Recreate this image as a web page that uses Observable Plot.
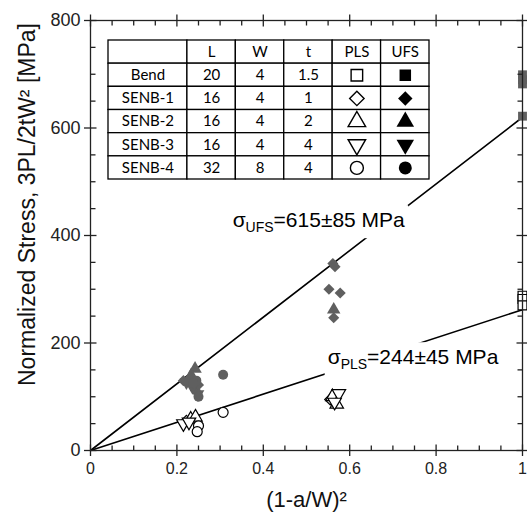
<!DOCTYPE html>
<html><head><meta charset="utf-8">
<script src="https://cdn.jsdelivr.net/npm/d3@7"></script>
<script src="https://cdn.jsdelivr.net/npm/@observablehq/plot@0.6"></script>
<style>
body{margin:0;background:#fff;}
#wrap{position:relative;width:527px;height:514px;}
#table{position:absolute;left:107px;top:39px;}
</style></head><body><div id="wrap"><div id="chart"></div><div id="table"></div></div>
<script>
// ---------- data ----------
const xMajor = [0, 0.2, 0.4, 0.6, 0.8, 1];
const xMinor = [0.05,0.1,0.15,0.25,0.3,0.35,0.45,0.5,0.55,0.65,0.7,0.75,0.85,0.9,0.95];
const yMajor = [0, 200, 400, 600, 800];
const yMinor = [50,100,150,250,300,350,450,500,550,650,700,750];

const specimens = ["Bend", "SENB-1", "SENB-2", "SENB-3", "SENB-4"];
const specL = [20, 16, 16, 16, 32];
const specW = [4, 4, 4, 4, 8];
const specT = [1.5, 1, 2, 4, 4];
const tableHeader = ["", "L", "W", "t", "PLS", "UFS"];

// UFS (filled) points
const ufsBendX  = [1, 1, 1, 1];
const ufsBendY  = [622, 682, 690, 699];
const ufsSenb1X = [0.561, 0.566, 0.552, 0.578, 0.563, 0.215, 0.228, 0.243, 0.250];
const ufsSenb1Y = [348, 342, 300, 293, 247, 130, 133, 112, 122];
const ufsSenb2X = [0.563, 0.242, 0.233];
const ufsSenb2Y = [262, 152, 140];
const ufsSenb3X = [0.222, 0.236, 0.248];
const ufsSenb3Y = [127, 118, 105];
const ufsSenb4X = [0.307, 0.245, 0.250, 0.238];
const ufsSenb4Y = [141, 130, 100, 125];

// PLS (open) points
const plsBendX  = [1, 1, 1];
const plsBendY  = [288, 282, 270];
const plsSenb1X = [0.555, 0.222];
const plsSenb1Y = [95, 55];
const plsSenb2X = [0.560, 0.570, 0.232, 0.243];
const plsSenb2Y = [100, 86, 58, 62];
const plsSenb3X = [0.575, 0.565, 0.215, 0.228];
const plsSenb3Y = [106, 90, 50, 53];
const plsSenb4X = [0.307, 0.250, 0.247];
const plsSenb4Y = [71, 46, 35];

// fit lines
const fitX = [0, 1];
const ufsFitY = [0, 620];
const plsFitY = [0, 262];

// annotations
const fitNames = ["UFS", "PLS"];
const fitMean = [615, 244];
const fitErr = [85, 45];
const labelX = [0.329, 0.549];
const labelY = [428, 173];

// ---------- symbols ----------
const triangleDown = {
  draw(ctx, size) {
    const y = -Math.sqrt(size / (Math.sqrt(3) * 3));
    ctx.moveTo(0, -y * 2);
    ctx.lineTo(-Math.sqrt(3) * y, y);
    ctx.lineTo(Math.sqrt(3) * y, y);
    ctx.closePath();
  }
};
const specSymbols = ["square", "diamond2", "triangle", triangleDown, "circle"];
// tick-segment symbols (vertical / horizontal line pieces, in px from the anchor)
const vSeg = (a, b) => ({draw(ctx) { ctx.moveTo(0, a); ctx.lineTo(0, b); }});
const hSeg = (a, b) => ({draw(ctx) { ctx.moveTo(a, 0); ctx.lineTo(b, 0); }});

const zipXY = (xs, ys) => xs.map((x, i) => ({x, y: ys[i]}));
const ufsSeries = [zipXY(ufsBendX, ufsBendY), zipXY(ufsSenb1X, ufsSenb1Y), zipXY(ufsSenb2X, ufsSenb2Y), zipXY(ufsSenb3X, ufsSenb3Y), zipXY(ufsSenb4X, ufsSenb4Y)];
const plsSeries = [zipXY(plsBendX, plsBendY), zipXY(plsSenb1X, plsSenb1Y), zipXY(plsSenb2X, plsSenb2Y), zipXY(plsSenb3X, plsSenb3Y), zipXY(plsSenb4X, plsSenb4Y)];
const labels = fitNames.map((n, i) => ({x: labelX[i], y: labelY[i], text: `σ${n}=${fitMean[i]}±${fitErr[i]} MPa`}));

const axisColor = "#222";
const tk = {stroke: axisColor, strokeWidth: 1.3, fill: "none", r: 1};
const xTicks = (vals, anchor, seg) => Plot.dot(vals, {x: d => d, frameAnchor: anchor, symbol: seg, ...tk});
const yTicks = (vals, anchor, seg) => Plot.dot(vals, {y: d => d, frameAnchor: anchor, symbol: seg, ...tk});

const chart = Plot.plot({
  width: 527, height: 514,
  marginLeft: 90, marginRight: 5, marginTop: 20, marginBottom: 64,
  x: {domain: [0, 1]},
  y: {domain: [0, 800]},
  style: {fontFamily: "'Liberation Sans', Arial, sans-serif", background: "white"},
  marks: [
    Plot.line(zipXY(fitX, ufsFitY), {x: "x", y: "y", stroke: "black", strokeWidth: 1.6}),
    Plot.line(zipXY(fitX, plsFitY), {x: "x", y: "y", stroke: "black", strokeWidth: 1.6}),
    Plot.text(labels, {x: "x", y: "y", text: "text", textAnchor: "start", fontSize: 21, fill: "black"}),
    ...plsSeries.map((data, i) => Plot.dot(data, {x: "x", y: "y", symbol: specSymbols[i], r: 5, fill: "white", stroke: "black", strokeWidth: 1.2})),
    ...ufsSeries.map((data, i) => Plot.dot(data, {x: "x", y: "y", symbol: specSymbols[i], r: 5, fill: "#5f5f5f", stroke: "none"})),
    Plot.frame({stroke: axisColor, strokeWidth: 1.3}),
    // labelled axes (outward ticks)
    Plot.axisX(xMajor, {anchor: "bottom", tickSize: 6, tickPadding: 6, tickFormat: d => String(d), label: null, fontSize: 16, fill: "#222", stroke: axisColor, strokeWidth: 1.3}),
    Plot.axisY(yMajor, {anchor: "left", tickSize: 6, tickPadding: 4, tickFormat: d => String(d), label: null, fontSize: 18, fill: "#222", stroke: axisColor, strokeWidth: 1.3}),
    // inward ticks bottom / left
    xTicks(xMajor, "bottom", vSeg(-6, 0)), xTicks(xMinor, "bottom", vSeg(-5, 0)),
    yTicks(yMajor, "left", hSeg(0, 6)), yTicks(yMinor, "left", hSeg(0, 5)),
    // top / right: crossing major ticks, inward minor ticks
    xTicks(xMajor, "top", vSeg(-6, 6)), xTicks(xMinor, "top", vSeg(0, 5)),
    yTicks(yMajor, "right", hSeg(-6, 6)), yTicks(yMinor, "right", hSeg(-5, 0)),
    Plot.text(["(1-a/W)²"], {frameAnchor: "bottom", dy: 56, fontSize: 22, fill: "#111"}),
    Plot.text(["Normalized Stress, 3PL/2tW² [MPa]"], {frameAnchor: "left", textAnchor: "middle", rotate: -90, dx: -63, dy: -31, fontSize: 23, fill: "#111"})
  ]
});
document.getElementById("chart").appendChild(chart);

// subscripts + white backing box for fit annotations
d3.select(chart).selectAll("text").each(function () {
  const t = this.textContent;
  const m = t.match(/^σ(\w+)(=.*)$/);
  if (!m) return;
  const el = d3.select(this);
  el.text(null);
  el.append("tspan").text("σ");
  el.append("tspan").attr("font-size", "14px").attr("dy", "5").text(m[1]);
  el.append("tspan").attr("dy", "-5").text(m[2]);
  const bb = this.getBBox();
  const pad = 3;
  const r = document.createElementNS("http://www.w3.org/2000/svg", "rect");
  r.setAttribute("x", bb.x - pad); r.setAttribute("y", bb.y - pad);
  r.setAttribute("width", bb.width + 2 * pad); r.setAttribute("height", bb.height + 2 * pad);
  r.setAttribute("fill", "white");
  if (this.getAttribute("transform")) r.setAttribute("transform", this.getAttribute("transform"));
  this.parentNode.insertBefore(r, this);
});

// ---------- inset table ----------
const colWeights = [1.63, 1, 1, 1, 1, 1];
const colEdges = [0, ...d3.cumsum(colWeights)];
const nRows = specimens.length + 1;
const cells = [];
for (let r = 0; r < nRows; r++) for (let c = 0; c < tableHeader.length; c++)
  cells.push({x1: colEdges[c], x2: colEdges[c + 1], y1: r, y2: r + 1});
const mid = c => (colEdges[c] + colEdges[c + 1]) / 2;
const tableTexts = [];
tableHeader.forEach((h, c) => { if (h) tableTexts.push({x: mid(c), y: 0.5, t: h}); });
specimens.forEach((s, i) => {
  [s, specL[i], specW[i], specT[i]].forEach((v, c) => tableTexts.push({x: mid(c), y: i + 1.5, t: String(v)}));
});
const symRows = specimens.map((s, i) => ({y: i + 1.5, i}));

const table = Plot.plot({
  width: 323, height: 141, marginTop: 1, marginBottom: 1, marginLeft: 1, marginRight: 1,
  x: {domain: [0, colEdges[colEdges.length - 1]], axis: null},
  y: {domain: [0, nRows], reverse: true, axis: null},
  style: {fontFamily: "Lato, 'Open Sans', sans-serif", background: "transparent"},
  marks: [
    Plot.rect(cells, {x1: "x1", x2: "x2", y1: "y1", y2: "y2", fill: "white", stroke: "black", strokeWidth: 1.3}),
    Plot.text(tableTexts, {x: "x", y: "y", text: "t", fontSize: 15, fill: "black"}),
    ...symRows.map(d => Plot.dot([d], {x: () => mid(4), y: "y", symbol: specSymbols[d.i], r: 6.5, fill: "white", stroke: "black", strokeWidth: 1.4})),
    ...symRows.map(d => Plot.dot([d], {x: () => mid(5), y: "y", symbol: specSymbols[d.i], r: 6.5, fill: "black", stroke: "none"}))
  ]
});
document.getElementById("table").appendChild(table);
</script></body></html>
